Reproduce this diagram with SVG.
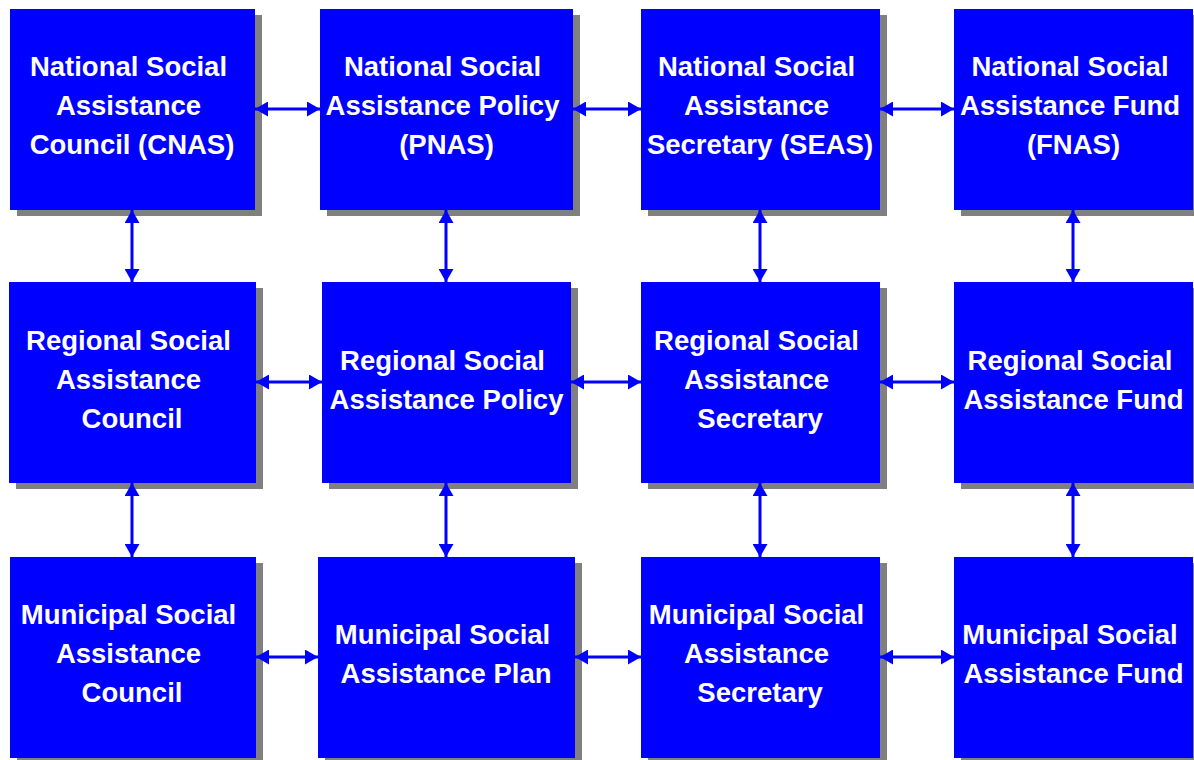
<svg xmlns="http://www.w3.org/2000/svg" width="1194" height="760" viewBox="0 0 1194 760">
<defs>
<style>
.sh{fill:#808080}
.bx{fill:#0000FF}
.t{font-family:"Liberation Sans",Arial,sans-serif;font-weight:bold;font-size:27.5px;fill:#FFFFFF;text-anchor:middle}
.c{stroke:#0000FF;stroke-width:3;fill:none;marker-start:url(#ah);marker-end:url(#ah)}
</style>
<marker id="ah" markerUnits="userSpaceOnUse" markerWidth="13" markerHeight="15" refX="13" refY="7.5" orient="auto-start-reverse" viewBox="0 0 13 15">
<path d="M0,0 L13,7.5 L0,15 z" fill="#0000FF"/>
</marker>
</defs>
<rect width="1194" height="760" fill="#FFFFFF"/>

<g id="cnas"><rect class="sh" x="17" y="15" width="245" height="201"/><rect class="bx" x="10" y="9" width="245" height="201"/>
<text class="t"><tspan x="128.5" y="76">National Social</tspan><tspan x="128.5" y="115">Assistance</tspan><tspan x="132" y="154">Council (CNAS)</tspan></text></g>

<g id="pnas"><rect class="sh" x="327" y="15" width="253" height="201"/><rect class="bx" x="320" y="9" width="253" height="201"/>
<text class="t"><tspan x="442.5" y="76">National Social</tspan><tspan x="442.5" y="115">Assistance Policy</tspan><tspan x="446.5" y="154">(PNAS)</tspan></text></g>

<g id="seas"><rect class="sh" x="648" y="15" width="239" height="201"/><rect class="bx" x="641" y="9" width="239" height="201"/>
<text class="t"><tspan x="756.5" y="76">National Social</tspan><tspan x="756.5" y="115">Assistance</tspan><tspan x="760" y="154">Secretary (SEAS)</tspan></text></g>

<g id="fnas"><rect class="sh" x="961" y="15" width="239" height="201"/><rect class="bx" x="954" y="9" width="239" height="201"/>
<text class="t"><tspan x="1070" y="76">National Social</tspan><tspan x="1070" y="115">Assistance Fund</tspan><tspan x="1073.5" y="154">(FNAS)</tspan></text></g>

<g id="rcouncil"><rect class="sh" x="16" y="288" width="247" height="201"/><rect class="bx" x="9" y="282" width="247" height="201"/>
<text class="t"><tspan x="128.5" y="350">Regional Social</tspan><tspan x="128.5" y="389">Assistance</tspan><tspan x="132" y="428">Council</tspan></text></g>

<g id="rpolicy"><rect class="sh" x="329" y="288" width="249" height="201"/><rect class="bx" x="322" y="282" width="249" height="201"/>
<text class="t"><tspan x="442.5" y="370">Regional Social</tspan><tspan x="446.5" y="409">Assistance Policy</tspan></text></g>

<g id="rsecretary"><rect class="sh" x="648" y="288" width="239" height="201"/><rect class="bx" x="641" y="282" width="239" height="201"/>
<text class="t"><tspan x="756.5" y="350">Regional Social</tspan><tspan x="756.5" y="389">Assistance</tspan><tspan x="760" y="428">Secretary</tspan></text></g>

<g id="rfund"><rect class="sh" x="961" y="288" width="239" height="201"/><rect class="bx" x="954" y="282" width="239" height="201"/>
<text class="t"><tspan x="1070" y="370">Regional Social</tspan><tspan x="1073.5" y="409">Assistance Fund</tspan></text></g>

<g id="mcouncil"><rect class="sh" x="17" y="563" width="246" height="201"/><rect class="bx" x="10" y="557" width="246" height="201"/>
<text class="t"><tspan x="128.5" y="624">Municipal Social</tspan><tspan x="128.5" y="663">Assistance</tspan><tspan x="132" y="702">Council</tspan></text></g>

<g id="mplan"><rect class="sh" x="325" y="563" width="257" height="201"/><rect class="bx" x="318" y="557" width="257" height="201"/>
<text class="t"><tspan x="442.5" y="644">Municipal Social</tspan><tspan x="446" y="683">Assistance Plan</tspan></text></g>

<g id="msecretary"><rect class="sh" x="648" y="563" width="239" height="201"/><rect class="bx" x="641" y="557" width="239" height="201"/>
<text class="t"><tspan x="756.5" y="624">Municipal Social</tspan><tspan x="756.5" y="663">Assistance</tspan><tspan x="760" y="702">Secretary</tspan></text></g>

<g id="mfund"><rect class="sh" x="961" y="563" width="239" height="201"/><rect class="bx" x="954" y="557" width="239" height="201"/>
<text class="t"><tspan x="1070" y="644">Municipal Social</tspan><tspan x="1073.5" y="683">Assistance Fund</tspan></text></g>

<g id="connectors">
<line class="c" x1="255" y1="109" x2="320" y2="109"/>
<line class="c" x1="573" y1="109" x2="641" y2="109"/>
<line class="c" x1="880" y1="109" x2="954" y2="109"/>
<line class="c" x1="256" y1="382" x2="322" y2="382"/>
<line class="c" x1="571" y1="382" x2="641" y2="382"/>
<line class="c" x1="880" y1="382" x2="954" y2="382"/>
<line class="c" x1="256" y1="657" x2="318" y2="657"/>
<line class="c" x1="575" y1="657" x2="641" y2="657"/>
<line class="c" x1="880" y1="657" x2="954" y2="657"/>
<line class="c" x1="132" y1="210" x2="132" y2="282"/>
<line class="c" x1="132" y1="483" x2="132" y2="557"/>
<line class="c" x1="446" y1="210" x2="446" y2="282"/>
<line class="c" x1="446" y1="483" x2="446" y2="557"/>
<line class="c" x1="760" y1="210" x2="760" y2="282"/>
<line class="c" x1="760" y1="483" x2="760" y2="557"/>
<line class="c" x1="1073" y1="210" x2="1073" y2="282"/>
<line class="c" x1="1073" y1="483" x2="1073" y2="557"/>
</g>
</svg>
